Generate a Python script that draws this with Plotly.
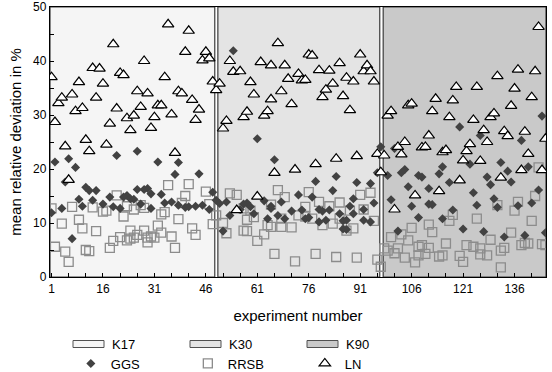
import plotly.graph_objects as go

# ---------------- data ----------------
regions = ["K17", "K30", "K90"]
region_start = [0.56, 49.5, 97.7]
region_end = [48.6, 96.7, 145.17]
y_min, y_max = 0, 50

x_tickvals = list(range(1, 142, 5))
x_labels = [1, 16, 31, 46, 61, 76, 91, 106, 121, 136]
y_tickvals = list(range(0, 51, 5))
y_labels = [0, 10, 20, 30, 40, 50]

ln_exp = list(range(1, 50)) + list(range(50, 66)) + list(range(65, 99)) \
    + list(range(99, 108)) + list(range(109, 146))
ln_val = [37.0, 28.7, 32.2, 33.2, 24.2, 18.0, 33.8, 30.7, 36.1, 31.3, 25.4, 23.3, 38.7, 33.2,
          38.6, 35.8, 24.5, 28.4, 43.1, 31.2, 37.8, 37.4, 29.4, 27.2, 29.9, 34.4, 31.5, 40.0,
          34.0, 27.6, 29.6, 31.8, 31.8, 37.0, 46.8, 30.1, 23.0, 34.4, 34.0, 41.7, 45.6, 32.8,
          29.1, 31.0, 40.1, 41.7, 40.5, 36.2, 34.6,
          35.8, 27.5, 28.9, 40.0, 38.0, 12.4, 38.1, 29.6, 30.6, 36.1, 33.8, 14.9, 39.8, 29.9,
          30.7, 39.2, 32.9, 19.3, 43.3, 34.4, 39.2, 36.7, 32.0, 19.9, 37.6, 36.4, 36.5, 41.2,
          41.0, 20.9, 38.3, 33.3, 34.7, 38.2, 35.8, 21.9, 39.6, 33.5, 36.9, 30.9, 36.2, 22.4,
          41.2, 38.1, 39.2, 38.1, 36.2, 22.8, 19.4, 22.5,
          29.9, 30.7, 12.5, 24.1, 22.7, 25.0, 31.8, 32.1, 15.1,
          24.0, 24.1, 26.2, 30.7, 33.0, 15.9, 23.1, 23.5, 29.6, 32.7, 35.2, 17.9, 21.6, 23.3,
          24.6, 29.1, 35.2, 21.5, 27.2, 25.0, 29.6, 30.3, 37.2, 18.4, 27.0, 26.1, 31.7, 34.9,
          38.4, 19.8, 26.9, 22.8, 33.3, 38.1, 46.3, 19.8, 25.6]

ggs_exp = [1, 2, 4, 5, 6, 7, 8, 9, 10, 11, 12, 13, 14, 16, 18, 19, 20, 21, 22, 23, 24, 25,
           26, 26, 27, 28, 29, 30, 30, 32, 33, 34, 36, 37, 38, 38, 40, 41, 43, 44, 45, 47, 48, 49,
           50, 51, 52, 53, 54, 56, 57, 58, 59, 60, 61, 63, 64, 65, 65, 66, 67, 68, 69, 71, 73,
           74, 75, 76, 77, 78, 79, 79, 80, 81, 82, 83, 84, 85, 86, 86, 87, 87, 88, 89, 89, 90,
           92, 92, 94, 94, 95, 96, 97,
           99, 100, 101, 102, 103, 104, 105, 106, 108, 108, 109, 111, 111, 112, 114, 115, 115,
           117, 118, 120, 121, 123, 124, 125, 126, 127, 128, 129, 130, 131, 132, 133, 134, 135,
           137, 138, 139, 140, 141, 143, 144, 145]
ggs_val = [11.9, 21.3, 12.7, 17.6, 21.9, 7.1, 20.3, 14.4, 13.1, 16.6, 16.0, 14.2, 16.0, 13.5,
           14.8, 13.0, 22.5, 12.7, 14.8, 15.1, 14.5, 14.4, 23.3, 16.2, 13.5, 16.2, 16.4, 12.7,
           15.4, 21.3, 15.3, 13.7, 13.9, 19.0, 21.2, 13.3, 12.9, 13.0, 13.1, 19.1, 13.3, 12.5,
           15.7, 14.2,
           13.6, 8.5, 13.9, 11.4, 41.9, 12.5, 13.5, 13.7, 13.0, 11.7, 25.6, 14.1, 10.8, 13.1,
           12.7, 21.7, 11.4, 13.9, 10.8, 12.2, 15.2, 12.4, 10.8, 11.0, 14.8, 17.7, 12.5, 10.2,
           12.2, 10.5, 12.4, 16.0, 18.6, 11.7, 8.9, 10.4, 10.5, 8.8, 13.1, 11.7, 14.5, 17.5,
           12.5, 10.5, 10.2, 17.3, 13.7, 19.3, 24.1,
           18.8, 14.3, 23.8, 8.5, 19.3, 19.9, 16.7, 13.1, 18.8, 11.0, 18.5, 16.4, 13.5, 13.4,
           19.1, 10.8, 20.4, 17.5, 12.4, 27.8, 8.9, 20.9, 15.6, 13.3, 26.2, 8.4, 18.5, 17.1,
           14.5, 12.9, 21.2, 7.4, 19.6, 17.6, 13.2, 25.3, 7.7, 20.4, 13.7, 16.1, 29.8, 8.2]

rrsb_exp = [1, 2, 4, 5, 6, 7, 9, 10, 11, 12, 13, 14, 16, 17, 18, 19, 20, 21, 22, 23, 23, 24,
            24, 25, 25, 26, 27, 28, 28, 29, 29, 30, 31, 32, 33, 33, 34, 35, 36, 37, 38, 39, 40,
            41, 42, 43, 46, 47, 48, 49,
            51, 52, 53, 55, 57, 57, 58, 58, 59, 60, 61, 63, 64, 65, 65, 66, 67, 68, 68, 69, 71,
            72, 73, 75, 75, 76, 77, 78, 79, 80, 82, 83, 84, 85, 85, 87, 88, 89, 90, 91, 92, 94,
            95, 96, 97,
            98, 99, 100, 101, 102, 103, 104, 105, 106, 107, 108, 108, 109, 110, 111, 111, 112,
            114, 115, 116, 117, 118, 120, 121, 122, 124, 125, 126, 126, 128, 129, 131, 132, 132,
            133, 135, 136, 137, 138, 139, 140, 141, 142, 143, 144, 145]
rrsb_val = [12.7, 5.6, 9.9, 4.7, 2.8, 13.0, 10.6, 9.0, 5.0, 4.8, 12.9, 8.5, 12.1, 12.3, 5.4,
            6.7, 15.1, 7.4, 11.2, 6.8, 13.1, 8.6, 7.1, 7.3, 12.5, 7.8, 13.3, 12.8, 8.6, 6.4, 7.3,
            7.5, 7.3, 9.5, 11.6, 8.2, 12.0, 17.0, 7.5, 5.4, 10.7, 13.7, 15.0, 17.2, 9.0, 7.8,
            15.8, 13.5, 9.8, 11.4,
            10.0, 8.1, 15.5, 15.2, 8.6, 12.7, 10.6, 8.5, 12.3, 11.1, 6.7, 7.9, 9.6, 13.4, 9.3,
            4.3, 16.1, 10.8, 9.3, 14.8, 9.2, 2.9, 11.4, 11.2, 13.0, 15.7, 10.8, 4.3, 13.9, 9.6,
            13.1, 9.9, 3.7, 13.8, 10.8, 8.6, 12.3, 9.0, 3.6, 15.2, 12.5, 15.6, 10.4, 3.2, 1.9,
            5.3, 4.9, 7.4, 4.4, 5.3, 7.9, 3.6, 6.8, 9.1, 2.7, 5.6, 4.0, 5.9, 4.3, 5.4, 9.7, 8.3,
            3.8, 4.0, 6.2, 10.4, 11.5, 3.9, 2.8, 5.9, 5.6, 10.8, 5.3, 4.2, 4.0, 6.9, 13.3, 1.8,
            4.9, 5.4, 8.2, 12.3, 13.9, 5.9, 6.3, 6.2, 10.4, 15.0, 20.3, 6.1, 5.9]

# ---------------- styles ----------------
FONT = "Arial, 'Liberation Sans', Helvetica, sans-serif"
W, H = 552, 372
ML, MR, MT, MB = 50, 6, 7, 95
region_fill = ["#f5f5f5", "#e4e4e4", "#c9c9c9"]
region_line = "#3c3c3c"

fig = go.Figure()

for name, s, e, fc in zip(regions, region_start, region_end, region_fill):
    fig.add_trace(go.Scatter(
        x=[s, e, e, s, s], y=[y_min, y_min, y_max, y_max, y_min],
        mode="lines", fill="toself", fillcolor=fc,
        line=dict(color=region_line, width=1.2),
        name=name, showlegend=False, hoverinfo="skip"))

fig.add_trace(go.Scatter(
    x=rrsb_exp, y=rrsb_val, mode="markers", name="RRSB", legendrank=2,
    marker=dict(symbol="square-open", size=9, color="#8c8c8c", line=dict(width=1.3))))
fig.add_trace(go.Scatter(
    x=ggs_exp, y=ggs_val, mode="markers", name="GGS", legendrank=1,
    marker=dict(symbol="diamond", size=7, color="#424242", line=dict(width=0))))
fig.add_trace(go.Scatter(
    x=ln_exp, y=ln_val, mode="markers", name="LN", legendrank=3,
    marker=dict(symbol="triangle-up", size=10, color="white",
                line=dict(color="black", width=1.2))))

# region legend row (swatches + labels), positioned in paper coordinates
pw, ph = W - ML - MR, H - MT - MB
def px_x(p):
    return (p - ML) / pw
def px_y(p):
    return (H - MB - p) / ph

shapes, annos = [], []
for i, (name, fc) in enumerate(zip(regions, region_fill)):
    x0 = 73 + 117 * i
    shapes.append(dict(type="rect", xref="paper", yref="paper",
                       x0=px_x(x0), x1=px_x(x0 + 31), y0=px_y(347.5), y1=px_y(340.5),
                       fillcolor=fc, line=dict(color="#505050", width=1)))
    annos.append(dict(xref="paper", yref="paper", x=px_x(x0 + 37), y=px_y(344),
                      xanchor="left", yanchor="middle", text=name, showarrow=False,
                      font=dict(size=13)))

fig.update_layout(
    width=W, height=H,
    margin=dict(l=ML, r=MR, t=MT, b=MB, autoexpand=False),
    paper_bgcolor="white", plot_bgcolor="white",
    font=dict(family=FONT, size=12, color="black"),
    xaxis=dict(range=[region_start[0], region_end[-1]], tickmode="array",
               tickvals=x_tickvals,
               ticktext=[str(v) if v in x_labels else "" for v in x_tickvals],
               ticks="inside", ticklen=4, tickwidth=1, tickcolor="black",
               showline=True, linecolor="black", linewidth=1.3, mirror=True,
               showgrid=False, zeroline=False, automargin=False,
               tickfont=dict(size=12),
               title=dict(text="experiment number", font=dict(size=15), standoff=15)),
    yaxis=dict(range=[y_min, y_max], tickmode="array", tickvals=y_tickvals,
               ticktext=[str(v) if v in y_labels else "" for v in y_tickvals],
               ticks="inside", ticklen=4, tickwidth=1, tickcolor="black",
               showline=True, linecolor="black", linewidth=1.3, mirror=True,
               showgrid=False, zeroline=False, automargin=False,
               tickfont=dict(size=12),
               title=dict(text="mean relative deviation in %", font=dict(size=15), standoff=7)),
    legend=dict(orientation="h", x=0.042, xanchor="left", yref="container",
                y=1 - 363.5 / H, yanchor="middle",
                entrywidth=72, entrywidthmode="pixels", font=dict(size=13),
                bgcolor="rgba(0,0,0,0)", traceorder="normal"),
    shapes=shapes, annotations=annos,
)

fig.write_html("out.html", config={"displayModeBar": False},
               post_script="document.body.style.margin='0';document.body.style.padding='0';")
